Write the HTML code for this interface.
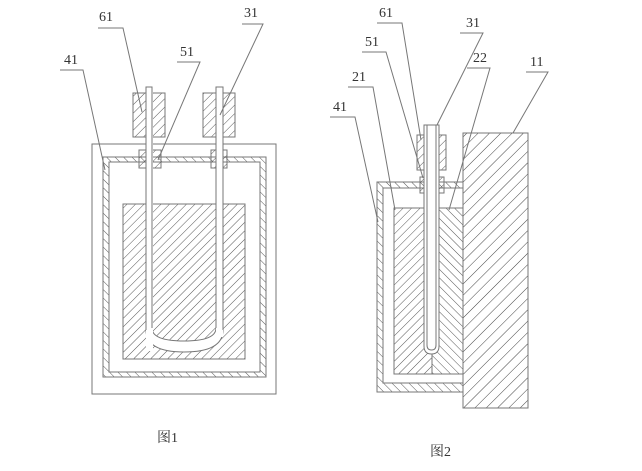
<!DOCTYPE html>
<html><head><meta charset="utf-8"><style>
html,body{margin:0;padding:0;background:#fff}
svg{display:block}
text{font-family:"Liberation Serif","Noto Serif CJK SC",serif;font-size:14px;fill:#333}
</style></head><body>
<svg width="642" height="471" viewBox="0 0 642 471" xmlns="http://www.w3.org/2000/svg">
<defs>
<pattern id="f" patternUnits="userSpaceOnUse" width="6" height="6" patternTransform="rotate(45)">
<line x1="0" y1="0" x2="0" y2="6" stroke="#444" stroke-width="0.9"/></pattern>
<pattern id="b" patternUnits="userSpaceOnUse" width="6" height="6" patternTransform="rotate(-45)">
<line x1="0" y1="0" x2="0" y2="6" stroke="#444" stroke-width="0.9"/></pattern>
<pattern id="f2" patternUnits="userSpaceOnUse" width="8" height="8" patternTransform="rotate(45)">
<line x1="0" y1="0" x2="0" y2="8" stroke="#444" stroke-width="1"/></pattern>
</defs>
<g stroke="#777" stroke-width="1" fill="none">
<!-- Figure 1 -->
<rect x="92" y="144" width="184" height="250" fill="#fff"/>
<path d="M103 157H266V377H103Z M109 162V372H260V162Z" fill="url(#b)" fill-rule="evenodd"/>
<rect x="123" y="204" width="122" height="155" fill="url(#f)"/>
<path d="M146 87V330Q146 352 184 352Q223 352 223 330V87H216V328Q216 341 184 341Q152 341 152 328V87Z" fill="#fff"/>
<rect x="133" y="93" width="32" height="44" fill="url(#f)"/>
<rect x="203" y="93" width="32" height="44" fill="url(#f)"/>
<rect x="139" y="150" width="22" height="18" fill="url(#f)"/>
<rect x="211" y="150" width="16" height="18" fill="url(#f)"/>
<rect x="146" y="87" width="7" height="264" fill="#fff" stroke="none"/>
<rect x="216" y="87" width="7" height="250" fill="#fff" stroke="none"/>
<line x1="146" y1="87" x2="146" y2="330"/><line x1="152" y1="87" x2="152" y2="328"/>
<line x1="216" y1="87" x2="216" y2="328"/><line x1="223" y1="87" x2="223" y2="330"/>
<line x1="146" y1="87" x2="152" y2="87"/><line x1="216" y1="87" x2="223" y2="87"/>
<!-- leaders fig1 -->
<path d="M98 28H123L142 112"/>
<path d="M242 24H263L220 115"/>
<path d="M177 62H200L158 160"/>
<path d="M60 70H83L105 170"/>
<!-- Figure 2 -->
<rect x="463" y="133" width="65" height="275" fill="url(#f2)"/>
<path d="M377 182H463V392H377Z M383 188V383H463V188Z" fill="url(#b)" fill-rule="evenodd"/>
<rect x="394" y="208" width="38" height="166" fill="url(#f)"/>
<rect x="432" y="208" width="31" height="166" fill="url(#b)"/>
<rect x="417" y="135" width="29" height="35" fill="url(#f)"/>
<rect x="420" y="177" width="24" height="16" fill="url(#f)"/>
<path d="M424 125V346Q424 354 431.5 354Q439 354 439 346V125Z" fill="#fff"/>
<path d="M427 125V345Q427 350 431.5 350Q436 350 436 345V125"/>
<!-- leaders fig2 -->
<path d="M377 23H402L421 140"/>
<path d="M460 33H483L437 125"/>
<path d="M362 52H386L423 178"/>
<path d="M467 68H490L449 210"/>
<path d="M526 72H548L513 133"/>
<path d="M348 87H373L395 210"/>
<path d="M330 117H355L378 222"/>
</g>
<g>
<text x="99" y="21">61</text>
<text x="244" y="17">31</text>
<text x="180" y="56">51</text>
<text x="64" y="64">41</text>
<text x="379" y="17">61</text>
<text x="466" y="27">31</text>
<text x="365" y="46">51</text>
<text x="473" y="62">22</text>
<text x="530" y="66">11</text>
<text x="352" y="81">21</text>
<text x="333" y="111">41</text>
<text x="157" y="442">图1</text>
<text x="430" y="456">图2</text>
</g>
</svg>
</body></html>
